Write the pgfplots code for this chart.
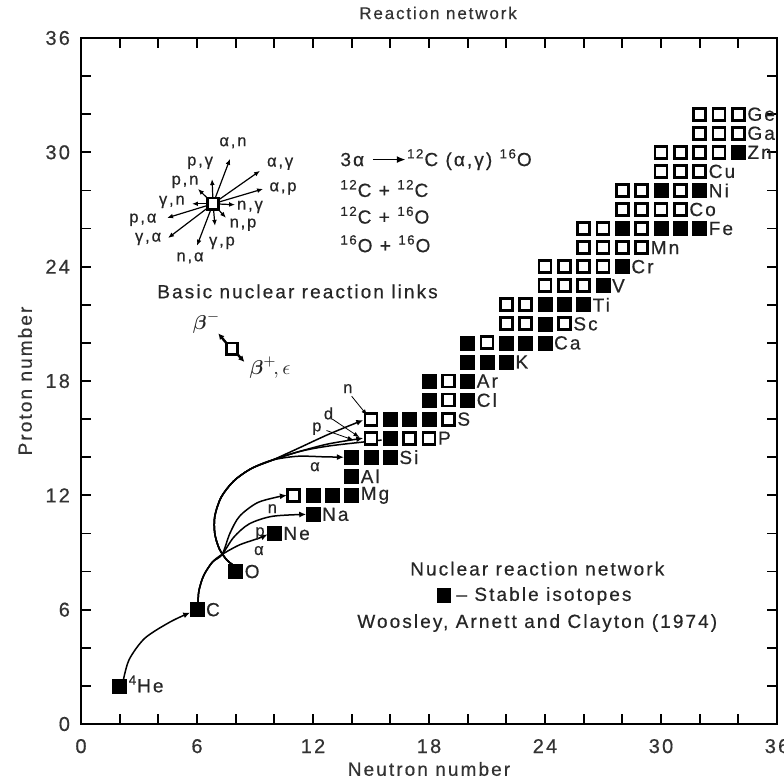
\documentclass[border=0pt]{standalone}
\usepackage{amsmath}
\usepackage{fontspec}
\setmainfont[LetterSpace=11, FakeBold=0.5]{Liberation Sans}
\usepackage{pgfplots}
\pgfplotsset{compat=1.18}
\usepackage{pgfplotstable}
\usetikzlibrary{arrows.meta}

\newcommand\lab{\fontsize{9.5}{11}\selectfont}
\newcommand\sml{\fontsize{8.3}{9}\selectfont}

% open squares: nuclei in the network, not stable
\pgfplotstableread{
N Z
32 32
33 32
34 32
32 31
33 31
34 31
30 30
31 30
32 30
33 30
30 29
31 29
32 29
28 28
29 28
31 28
28 27
29 27
30 27
31 27
26 26
27 26
29 26
26 25
27 25
28 25
29 25
24 24
25 24
26 24
27 24
24 23
25 23
26 23
22 22
23 22
22 21
23 21
25 21
21 20
19 18
19 17
15 16
19 16
15 15
17 15
18 15
11 12
}\unstable

% filled squares: stable isotopes
\pgfplotstableread{
N Z
34 30
30 28
32 28
28 26
30 26
31 26
32 26
28 24
27 23
24 22
25 22
26 22
24 21
20 20
22 20
23 20
24 20
20 19
21 19
22 19
18 18
20 18
18 17
20 17
16 16
17 16
18 16
16 15
14 14
15 14
16 14
14 13
12 12
13 12
14 12
12 11
10 10
8 8
6 6
2 2
}\stable

\begin{document}
\begin{tikzpicture}
\begin{axis}[
  name=ax,
  scale only axis, width=348pt, height=343pt,
  xmin=0, xmax=36, ymin=0, ymax=36,
  xtick={0,6,...,36}, ytick={0,6,...,36},
  minor xtick={2,4,8,10,14,16,20,22,26,28,32,34},
  minor ytick={2,4,8,10,14,16,20,22,26,28,32,34},
  tick align=inside,
  major tick length=5pt, minor tick length=5pt,
  major tick style={black, line width=0.9pt},
  minor tick style={black, line width=0.9pt},
  axis line style={line width=0.9pt},
  /pgf/number format/assume math mode=true,
  tick label style={font=\fontsize{10}{12}\selectfont, text=black!80},
  xticklabel shift=4pt, yticklabel shift=2pt,
  title={Reaction network}, xlabel={Neutron number}, ylabel={Proton number},
  every axis title/.style={at={(axis description cs:0.513,1)}, anchor=center, yshift=12.5pt, font=\fontsize{8.5}{10}\selectfont, text=black!80},
  every axis x label/.style={at={(axis description cs:0.5,0)}, anchor=center, yshift=-22.5pt, font=\lab, text=black!80},
  every axis y label/.style={at={(axis description cs:0,0.5)}, anchor=center, xshift=-28pt, rotate=90, font=\lab, text=black!80},
  clip=false,
]
% reaction paths
\addplot[smooth, line width=0.75pt, -{Latex[length=3.5pt,width=3pt]}] coordinates {(2.2,2.35)(2.5,3.4)(3.3,4.5)(4.6,5.35)(5.65,5.85)};
\addplot[smooth, line width=0.75pt, -{Latex[length=3.5pt,width=3pt]}] coordinates {(6.05,6.3)(6.1,7.0)(6.35,7.8)(6.8,8.5)(7.3,8.9)(8.2,9.4)(9.2,9.75)(9.65,9.95)};
\addplot[smooth, line width=0.75pt, -{Latex[length=3.5pt,width=3pt]}] coordinates {(6.05,6.3)(6.1,7.0)(6.35,7.8)(6.8,8.5)(7.3,8.9)(7.9,9.8)(8.7,10.5)(9.9,10.9)(11.65,11.0)};
\addplot[smooth, line width=0.75pt, -{Latex[length=3.5pt,width=3pt]}] coordinates {(6.05,6.3)(6.1,7.0)(6.35,7.8)(6.8,8.5)(7.3,8.9)(7.7,10.0)(8.2,10.9)(9.1,11.6)(10.1,11.9)(10.65,12.0)};
% 16O + 16O
\addplot[smooth, line width=0.75pt, -{Latex[length=3.5pt,width=3pt]}] coordinates {(8.0,8.25)(7.55,8.6)(7.15,9.2)(6.92,10.0)(6.92,10.9)(7.25,11.9)(7.9,12.75)(8.8,13.4)(9.9,13.85)(11.2,14.05)(12.6,14.02)(13.6,14.0)};
\addplot[smooth, line width=0.75pt, -{Latex[length=3.5pt,width=3pt]}] coordinates {(8.0,8.25)(7.55,8.6)(7.15,9.2)(6.92,10.0)(6.92,10.9)(7.25,11.9)(7.9,12.75)(8.8,13.4)(9.9,13.85)(11.3,14.3)(12.8,14.7)(14.6,15.0)};
\addplot[smooth, line width=0.75pt] coordinates {(8.0,8.25)(7.55,8.6)(7.15,9.2)(6.92,10.0)(6.92,10.9)(7.25,11.9)(7.9,12.75)(8.8,13.4)(9.9,13.85)(11.3,14.3)(12.9,14.6)(15.55,14.9)};
\addplot[smooth, line width=0.75pt, -{Latex[length=3.5pt,width=3pt]}] coordinates {(8.0,8.25)(7.55,8.6)(7.15,9.2)(6.92,10.0)(6.92,10.9)(7.25,11.9)(7.9,12.75)(8.8,13.4)(9.9,13.85)(11.2,14.45)(12.8,15.2)(14.6,15.95)};

% isotopes
\addplot[only marks, mark=square*, mark size=3.0pt, mark options={fill=white, draw=black, line width=1.4pt}] table[x=N, y=Z] {\unstable};
\addplot[only marks, mark=square*, mark size=3.5pt, mark options={fill=black, draw=black, line width=0.3pt}] table[x=N, y=Z] {\stable};
% schematic squares and legend square
\addplot[only marks, mark=square*, mark size=2.8pt, mark options={fill=white, draw=black, line width=1.3pt}] coordinates {(6.83,27.3)(7.8,19.7)};
\addplot[only marks, mark=square*, mark size=3.3pt, mark options={fill=black, draw=black}] coordinates {(18.75,6.75)};

% element labels
\begin{scope}[every node/.style={anchor=west, font=\lab, text=black!85, inner sep=0pt}]
\node at (axis cs:34.45,32) {Ge};
\node at (axis cs:34.45,31) {Ga};
\node at (axis cs:34.45,30) {Zn};
\node at (axis cs:32.45,29) {Cu};
\node at (axis cs:32.45,28) {Ni};
\node at (axis cs:31.45,27) {Co};
\node at (axis cs:32.45,26) {Fe};
\node at (axis cs:29.45,25) {Mn};
\node at (axis cs:28.45,24) {Cr};
\node at (axis cs:27.45,23) {V};
\node at (axis cs:26.45,22) {Ti};
\node at (axis cs:25.45,21) {Sc};
\node at (axis cs:24.45,20) {Ca};
\node at (axis cs:22.45,19) {K};
\node at (axis cs:20.45,18) {Ar};
\node at (axis cs:20.45,17) {Cl};
\node at (axis cs:19.45,16) {S};
\node at (axis cs:18.45,15) {P};
\node at (axis cs:16.45,14) {Si};
\node at (axis cs:14.45,13) {Al};
\node at (axis cs:14.45,12) {Mg};
\node at (axis cs:12.45,11) {Na};
\node at (axis cs:10.45,10) {Ne};
\node at (axis cs:8.45,8) {O};
\node at (axis cs:6.45,6) {C};
\node at (axis cs:2.45,2.1) {\textsuperscript{4}He};
\node at (axis cs:19.4,6.72) {-- Stable isotopes};
\node at (axis cs:13.4,29.62) {3α};
\node at (axis cs:16.85,29.62) {\textsuperscript{12}C (α,γ) \textsuperscript{16}O};
\node at (axis cs:13.4,28.1) {\textsuperscript{12}C + \textsuperscript{12}C};
\node at (axis cs:13.4,26.7) {\textsuperscript{12}C + \textsuperscript{16}O};
\node at (axis cs:13.4,25.2) {\textsuperscript{16}O + \textsuperscript{16}O};
\end{scope}
\draw[line width=0.9pt, -{Latex[length=4.5pt,width=3.5pt]}] (axis cs:15.1,29.62) -- (axis cs:16.8,29.62);

\begin{scope}[every node/.style={font=\lab, text=black!85}]
\node at (axis cs:11.2,22.7) {Basic nuclear reaction links};
\node at (axis cs:23.6,8.15) {Nuclear reaction network};
\node at (axis cs:23.6,5.3) {Woosley, Arnett and Clayton (1974)};
\end{scope}

% basic reaction links
\begin{scope}[line width=0.6pt, -{Latex[length=3pt,width=2.4pt]}]
\draw (axis cs:6.83,27.3) -- (axis cs:7.71,29.66);
\draw (axis cs:6.83,27.3) -- (axis cs:6.78,28.6);
\draw (axis cs:6.83,27.3) -- (axis cs:9.26,29.03);
\draw (axis cs:6.83,27.3) -- (axis cs:9.42,28.08);
\draw (axis cs:6.83,27.3) -- (axis cs:6.05,28.08);
\draw (axis cs:6.83,27.3) -- (axis cs:5.74,27.3);
\draw (axis cs:6.83,27.3) -- (axis cs:7.97,27.25);
\draw (axis cs:6.83,27.3) -- (axis cs:4.45,26.56);
\draw (axis cs:6.83,27.3) -- (axis cs:7.5,26.56);
\draw (axis cs:6.83,27.3) -- (axis cs:4.5,25.5);
\draw (axis cs:6.83,27.3) -- (axis cs:6.93,26.14);
\draw (axis cs:6.83,27.3) -- (axis cs:6.0,25.1);
\end{scope}
\begin{scope}[every node/.style={font=\sml, text=black!85, inner sep=0pt}]
\node at (axis cs:7.86,30.5) {α,n};
\node at (axis cs:6.16,29.45) {p,γ};
\node at (axis cs:10.3,29.4) {α,γ};
\node at (axis cs:10.45,28.1) {α,p};
\node at (axis cs:5.38,28.45) {p,n};
\node at (axis cs:4.7,27.4) {γ,n};
\node at (axis cs:8.74,27.14) {n,γ};
\node at (axis cs:3.2,26.46) {p,α};
\node at (axis cs:8.38,26.2) {n,p};
\node at (axis cs:3.47,25.46) {γ,α};
\node at (axis cs:7.29,25.25) {γ,p};
\node at (axis cs:5.64,24.46) {n,α};
% path labels
\node at (axis cs:9.2,9.1) {α};
\node at (axis cs:9.26,10.0) {p};
\node at (axis cs:9.9,11.3) {n};
\node at (axis cs:12.1,13.5) {α};
\node at (axis cs:13.8,17.6) {n};
\node at (axis cs:12.8,16.3) {d};
\node at (axis cs:12.2,15.5) {p};
\end{scope}
\draw[line width=0.4pt, -{Latex[length=3pt,width=2.2pt]}] (axis cs:14.0,17.2) -- (axis cs:14.8,16.2);
\draw[line width=0.4pt, -{Latex[length=3pt,width=2.2pt]}] (axis cs:13.0,16.0) -- (axis cs:14.4,15.05);
\draw[line width=0.4pt, -{Latex[length=3pt,width=2.2pt]}] (axis cs:12.7,15.4) -- (axis cs:14.1,14.9);

% beta decays
\draw[line width=1.2pt, -{Latex[length=3pt,width=3pt]}] (axis cs:7.55,19.95) -- (axis cs:7.1,20.5);
\draw[line width=1.2pt, -{Latex[length=3pt,width=3pt]}] (axis cs:8.05,19.45) -- (axis cs:8.45,19.0);
\node[text=black!85] at (axis cs:6.5,21.05) {$\boldsymbol{\beta}^-$};
\node[anchor=west, text=black!85, inner sep=0pt] at (axis cs:8.7,18.7) {$\boldsymbol{\beta}^{+}\!,\epsilon$};
\end{axis}
\pgfresetboundingbox
\path ([xshift=-40.5pt,yshift=-28pt]ax.south west) rectangle ([xshift=3.5pt,yshift=19pt]ax.north east);
\end{tikzpicture}
\end{document}
